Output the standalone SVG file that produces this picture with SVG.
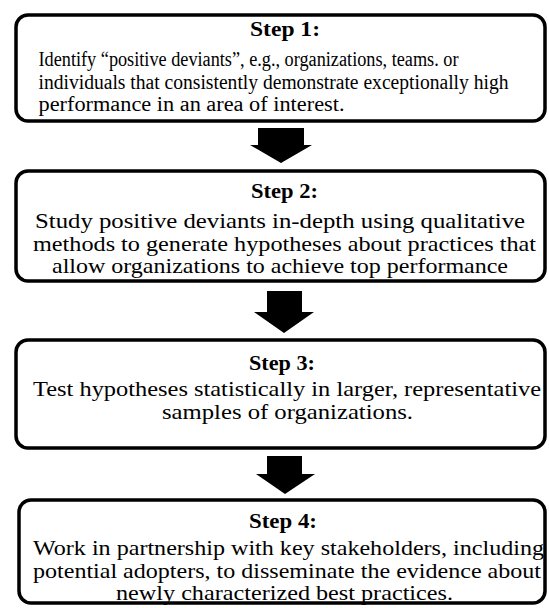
<svg xmlns="http://www.w3.org/2000/svg" width="549" height="608" viewBox="0 0 549 608">
<style>
.box{fill:#fff;stroke:#000;stroke-width:3.5}
text{font-family:"Liberation Serif","Times New Roman",serif;fill:#000}
.h{font-weight:bold;font-size:20px;text-anchor:middle}
.b{font-size:21px;text-anchor:middle}
.b1{font-size:20px}
.arr{fill:#000}
</style>
<rect width="549" height="608" fill="#fff"/>
<g id="step1" font-family="Liberation Serif, serif">
<rect class="box" x="16" y="15" width="529" height="106" rx="12"/>
<text class="h" x="285" y="36" textLength="70" lengthAdjust="spacingAndGlyphs">Step 1:</text>
<text class="b1" x="38.5" y="66" textLength="420" lengthAdjust="spacingAndGlyphs">Identify “positive deviants”, e.g., organizations, teams. or</text>
<text class="b1" x="38.5" y="89" textLength="470" lengthAdjust="spacingAndGlyphs">individuals that consistently demonstrate exceptionally high</text>
<text class="b1" x="38.5" y="111" textLength="306" lengthAdjust="spacingAndGlyphs">performance in an area of interest.</text>
</g>
<g id="step2" font-family="Liberation Serif, serif">
<rect class="box" x="16" y="171" width="529" height="110" rx="12"/>
<text class="h" x="284.5" y="198" textLength="67" lengthAdjust="spacingAndGlyphs">Step 2:</text>
<text class="b" x="280" y="228" textLength="490" lengthAdjust="spacingAndGlyphs">Study positive deviants in-depth using qualitative</text>
<text class="b" x="284.5" y="251" textLength="503" lengthAdjust="spacingAndGlyphs">methods to generate hypotheses about practices that</text>
<text class="b" x="280" y="273" textLength="456" lengthAdjust="spacingAndGlyphs">allow organizations to achieve top performance</text>
</g>
<g id="step3" font-family="Liberation Serif, serif">
<rect class="box" x="16" y="340" width="529" height="108" rx="12"/>
<text class="h" x="282" y="370" textLength="66" lengthAdjust="spacingAndGlyphs">Step 3:</text>
<text class="b" x="287" y="396" textLength="508" lengthAdjust="spacingAndGlyphs">Test hypotheses statistically in larger, representative</text>
<text class="b" x="287.5" y="419" textLength="251" lengthAdjust="spacingAndGlyphs">samples of organizations.</text>
</g>
<g id="step4" font-family="Liberation Serif, serif">
<rect class="box" x="19" y="500" width="526" height="103" rx="12"/>
<text class="h" x="283" y="528" textLength="68" lengthAdjust="spacingAndGlyphs">Step 4:</text>
<text class="b" x="288.5" y="555" textLength="511" lengthAdjust="spacingAndGlyphs">Work in partnership with key stakeholders, including</text>
<text class="b" x="287" y="578" textLength="508" lengthAdjust="spacingAndGlyphs">potential adopters, to disseminate the evidence about</text>
<text class="b" x="284.5" y="600" textLength="337" lengthAdjust="spacingAndGlyphs">newly characterized best practices.</text>
</g>
<g id="connectors">
<polygon class="arr" points="258,128 304,128 304,145 312,145 281,163 250,145 258,145"/>
<polygon class="arr" points="267,291 302,291 302,312 314,312 284,333 254,312 267,312"/>
<polygon class="arr" points="267,456 302,456 302,474 315,474 285,494 256,474 267,474"/>
</g>
</svg>
